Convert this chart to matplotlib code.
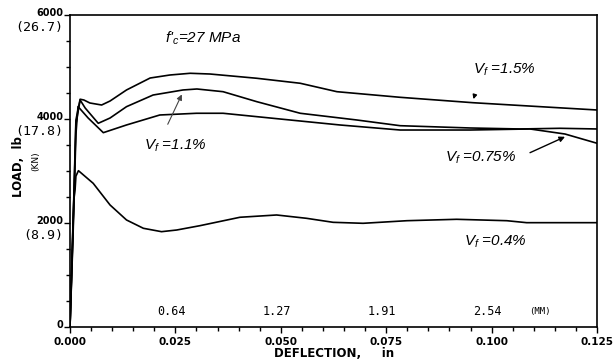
import matplotlib.pyplot as plt
from matplotlib.ticker import MultipleLocator

plt.rcParams['font.family'] = ['Liberation Sans', 'DejaVu Sans']
plt.rcParams['mathtext.fontset'] = 'custom'
plt.rcParams['mathtext.rm'] = 'Liberation Sans'
plt.rcParams['mathtext.it'] = 'Liberation Sans:italic'

# deflection (in) / load (lb)
x_15 = [0, 0.0007, 0.0014, 0.0024, 0.0033, 0.0047, 0.0075, 0.0095, 0.0134, 0.019, 0.0237,
        0.0285, 0.0332, 0.0443, 0.0546, 0.0633, 0.0783, 0.0956, 0.1115, 0.125]
y_15 = [0, 1900, 3980, 4380, 4365, 4308, 4269, 4346, 4558, 4788, 4846,
        4879, 4865, 4783, 4687, 4525, 4417, 4313, 4237, 4173]

x_11 = [0, 0.0007, 0.0014, 0.0024, 0.0036, 0.0067, 0.0095, 0.0134, 0.0197, 0.0268, 0.0301,
        0.0363, 0.0443, 0.0546, 0.068, 0.0783, 0.0949, 0.1067, 0.1162, 0.125]
y_11 = [0, 1800, 3900, 4365, 4211, 3917, 4019, 4237, 4461, 4558, 4577,
        4525, 4333, 4110, 3981, 3871, 3827, 3808, 3821, 3808]

x_075 = [0, 0.0007, 0.0014, 0.0019, 0.0043, 0.0079, 0.0134, 0.0213, 0.03, 0.0363, 0.0482,
         0.064, 0.0783, 0.0949, 0.1091, 0.1174, 0.125]
y_075 = [0, 1700, 3700, 4240, 4019, 3737, 3885, 4077, 4110, 4110, 4013,
         3885, 3788, 3788, 3808, 3711, 3533]

x_04 = [0, 0.0005, 0.0009, 0.0012, 0.0014, 0.002, 0.0055, 0.0095, 0.0134, 0.0174, 0.0217,
        0.0253, 0.0308, 0.0403, 0.049, 0.0561, 0.0624, 0.0695, 0.0799, 0.0917, 0.1036,
        0.1083, 0.125]
y_04 = [0, 1480, 2442, 2635, 2900, 3006, 2763, 2346, 2058, 1898, 1833,
        1865, 1948, 2110, 2154, 2090, 2013, 1994, 2044, 2071, 2044,
        2006, 2006]

y_ticks = [0, 2000, 4000, 6000]
y_kn = ['', '(8.9)', '(17.8)', '(26.7)']
x_ticks = [0, 0.025, 0.05, 0.075, 0.1, 0.125]
mm_labels = ['0.64', '1.27', '1.91', '2.54']

fig = plt.figure(figsize=(6.13, 3.63), dpi=100)
ax = fig.add_axes([0.1142, 0.0992, 0.8598, 0.8595])

for xs, ys in [(x_15, y_15), (x_11, y_11), (x_075, y_075), (x_04, y_04)]:
    ax.plot(xs, ys, color='black', lw=1.2)

ax.set_xlim(0, 0.125)
ax.set_ylim(0, 6000)
ax.xaxis.set_major_locator(MultipleLocator(0.025))
ax.xaxis.set_minor_locator(MultipleLocator(0.005))
ax.yaxis.set_major_locator(MultipleLocator(2000))
ax.yaxis.set_minor_locator(MultipleLocator(500))
ax.tick_params(which='major', length=4, width=1, direction='out')
ax.tick_params(which='minor', length=3, width=1, direction='out')
ax.set_xticks(x_ticks)
ax.set_xticklabels(['%.3f' % v for v in x_ticks], fontsize=7.5, fontweight='bold',
                   family='DejaVu Sans')
ax.set_yticks(y_ticks)
ax.set_yticklabels([])
for s in ax.spines.values():
    s.set_linewidth(1.2)

# two-unit y tick labels
for v, kn in zip(y_ticks, y_kn):
    ax.text(-0.012, v + 40, str(v), transform=ax.get_yaxis_transform(), ha='right',
            va='center', fontsize=7, fontweight='bold', family='DejaVu Sans')
    if kn:
        ax.text(-0.012, v - 250, kn, transform=ax.get_yaxis_transform(), ha='right',
                va='center', fontsize=9.5, family='DejaVu Sans Mono')

fig.text(0.03, 0.54, 'LOAD,  lb', rotation=90, ha='center', va='center',
         fontsize=8.5, fontweight='bold', family='DejaVu Sans')
fig.text(0.058, 0.555, '(KN)', rotation=90, ha='center', va='center', fontsize=6.5,
         family='DejaVu Sans')
fig.text(0.545, 0.025, 'DEFLECTION,     in', ha='center', va='center', fontsize=8.5,
         fontweight='bold', family='DejaVu Sans')

# mm scale along the bottom
for xv, lab in zip(x_ticks[1:5], mm_labels):
    ax.text(xv - 0.001, 300, lab, ha='center', va='center', fontsize=8.5,
            family='DejaVu Sans Mono')
ax.text(0.1115, 300, '(MM)', ha='center', va='center', fontsize=6.5, family='DejaVu Sans Mono')

ax.text(0.0315, 5560, "$f$'$_c$=27 MPa", fontsize=11, style='italic', ha='center', va='center')

lab_kw = dict(fontsize=11, style='italic', ha='center', va='center')
ax.text(0.103, 4940, r'$V_f$ =1.5%', **lab_kw)
ax.annotate('', xy=(0.0955, 4330), xytext=(0.0962, 4520),
            arrowprops=dict(arrowstyle='-|>', color='black', lw=1, mutation_scale=6))
ax.text(0.025, 3490, r'$V_f$ =1.1%', **lab_kw)
ax.annotate('', xy=(0.0268, 4520), xytext=(0.0229, 3850),
            arrowprops=dict(arrowstyle='-|>', color='#444444', lw=0.8, mutation_scale=8))
ax.text(0.0975, 3250, r'$V_f$ =0.75%', **lab_kw)
ax.annotate('', xy=(0.1180, 3680), xytext=(0.1085, 3330),
            arrowprops=dict(arrowstyle='-|>', color='black', lw=1, mutation_scale=8))
ax.text(0.1010, 1640, r'$V_f$ =0.4%', **lab_kw)

fig.savefig('out.png', dpi=100)
